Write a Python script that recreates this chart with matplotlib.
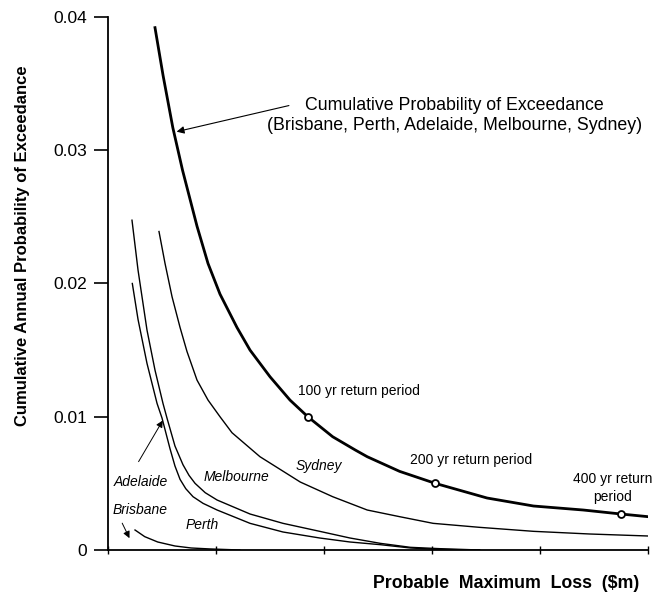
import numpy as np
import matplotlib
matplotlib.use("Agg")
import matplotlib.pyplot as plt

plt.rcParams['font.family'] = ['Liberation Sans', 'DejaVu Sans']

# cumulative curve (all cities)
cum_x = [0.435, 0.51, 0.60, 0.69, 0.824, 0.926, 1.037, 1.194, 1.315, 1.50, 1.685, 1.85, 2.08, 2.29, 2.40, 2.70, 3.03, 3.51, 3.94, 4.40, 4.75, 5.0]
cum_y = [0.0392, 0.0356, 0.0317, 0.0285, 0.0243, 0.0215, 0.0192, 0.0167, 0.0150, 0.0130, 0.01125, 0.0100, 0.0085, 0.0075, 0.0070, 0.0059, 0.0050, 0.0039, 0.0033, 0.0030, 0.0027, 0.0025]

# sydney
syd_x = [0.472, 0.528, 0.593, 0.667, 0.731, 0.824, 0.926, 1.037, 1.148, 1.407, 1.78, 2.08, 2.24, 2.40, 2.70, 3.01, 3.44, 3.94, 4.46, 5.0]
syd_y = [0.0239, 0.0215, 0.0190, 0.0167, 0.0149, 0.01275, 0.01125, 0.0100, 0.0088, 0.0070, 0.0051, 0.0040, 0.0035, 0.0030, 0.0025, 0.0020, 0.0017, 0.0014, 0.0012, 0.00105]

# melbourne (outer of the pair)
mel_x = [0.222, 0.278, 0.361, 0.435, 0.509, 0.546, 0.62, 0.694, 0.75, 0.806, 0.90, 1.01, 1.315, 1.62, 1.96, 2.24, 2.52, 2.80, 3.07, 3.44]
mel_y = [0.02475, 0.0210, 0.0165, 0.0135, 0.0110, 0.0099, 0.0078, 0.0064, 0.0056, 0.0050, 0.0043, 0.00375, 0.0027, 0.0020, 0.0014, 0.0009, 0.0005, 0.0002, 0.0001, 0.0]

# perth (inner of the pair)
per_x = [0.225, 0.278, 0.361, 0.454, 0.50, 0.574, 0.62, 0.667, 0.72, 0.787, 0.88, 1.01, 1.315, 1.62, 1.96, 2.24, 2.52, 2.80, 3.07, 3.44]
per_y = [0.0200, 0.0173, 0.0140, 0.0110, 0.0099, 0.0076, 0.0063, 0.0053, 0.0046, 0.0040, 0.0035, 0.0030, 0.0020, 0.00135, 0.0009, 0.0006, 0.0004, 0.00015, 0.00004, 0.0]

# brisbane
bri_x = [0.25, 0.34, 0.46, 0.62, 0.77, 0.94, 1.22]
bri_y = [0.0015, 0.0010, 0.0006, 0.0003, 0.00015, 0.00008, 0.0]

# return period points on the cumulative curve
ret_x = [1.85, 3.03, 4.75]
ret_y = [0.0100, 0.0050, 0.0027]

y_ticks = [0, 0.01, 0.02, 0.03, 0.04]
y_tick_labels = ["0", "0.01", "0.02", "0.03", "0.04"]
x_ticks = [0, 1, 2, 3, 4, 5]

fig = plt.figure(figsize=(6.68, 5.96), dpi=100)
ax = fig.add_axes([0.1617, 0.0772, 0.8084, 0.8943])

ax.plot(cum_x, cum_y, color="black", lw=2.0)
ax.plot(syd_x, syd_y, color="black", lw=1.0)
ax.plot(mel_x, mel_y, color="black", lw=1.0)
ax.plot(per_x, per_y, color="black", lw=1.0)
ax.plot(bri_x, bri_y, color="black", lw=1.0)
ax.plot(ret_x, ret_y, "o", ms=5, mfc="white", mec="black", mew=1.3)

ax.set_xlim(0, 5)
ax.set_ylim(0, 0.04)
ax.spines["top"].set_visible(False)
ax.spines["right"].set_visible(False)
ax.spines["left"].set_linewidth(1.3)
ax.spines["bottom"].set_linewidth(1.3)
ax.set_yticks(y_ticks)
ax.set_yticklabels(y_tick_labels)
ax.set_xticks(x_ticks)
ax.set_xticklabels([])
ax.tick_params(axis="y", direction="out", length=10, width=1.2, pad=5, labelsize=12.5)
ax.tick_params(axis="x", direction="inout", length=6, width=1.0)

ax.set_ylabel("Cumulative Annual Probability of Exceedance", fontsize=12, fontweight="bold")
ax.yaxis.set_label_coords(-0.145, 0.57)
ax.set_xlabel("Probable  Maximum  Loss  (\\$m)", fontsize=12.8, fontweight="bold")
ax.xaxis.set_label_coords(0.737, -0.046)

# annotations
tip_x = 0.61
ax.annotate("", xy=(tip_x, np.interp(tip_x, cum_x, cum_y)), xytext=(1.70, 0.0334),
            arrowprops=dict(arrowstyle="-|>", color="black", lw=0.8, mutation_scale=11))
ax.text(3.21, 0.0326, "Cumulative Probability of Exceedance\n(Brisbane, Perth, Adelaide, Melbourne, Sydney)",
        ha="center", va="center", fontsize=12.8, linespacing=1.2)

ax.text(2.32, 0.0119, "100 yr return period", ha="center", va="center", fontsize=10)
ax.text(3.36, 0.00675, "200 yr return period", ha="center", va="center", fontsize=10)
ax.text(4.67, 0.00465, "400 yr return\nperiod", ha="center", va="center", fontsize=10, linespacing=1.3)

ax.text(0.305, 0.0051, "Adelaide", ha="center", va="center", fontsize=10, style="italic")
ax.annotate("", xy=(0.52, 0.0099), xytext=(0.27, 0.00645),
            arrowprops=dict(arrowstyle="-|>", color="black", lw=0.7, mutation_scale=10))
ax.text(0.296, 0.0030, "Brisbane", ha="center", va="center", fontsize=10, style="italic")
ax.annotate("", xy=(0.21, 0.0007), xytext=(0.12, 0.0022),
            arrowprops=dict(arrowstyle="-|>", color="black", lw=0.7, mutation_scale=10))
ax.text(1.19, 0.00548, "Melbourne", ha="center", va="center", fontsize=10, style="italic")
ax.text(0.87, 0.0019, "Perth", ha="center", va="center", fontsize=10, style="italic")
ax.text(1.95, 0.0063, "Sydney", ha="center", va="center", fontsize=10, style="italic")

fig.savefig("out.png", dpi=100)
